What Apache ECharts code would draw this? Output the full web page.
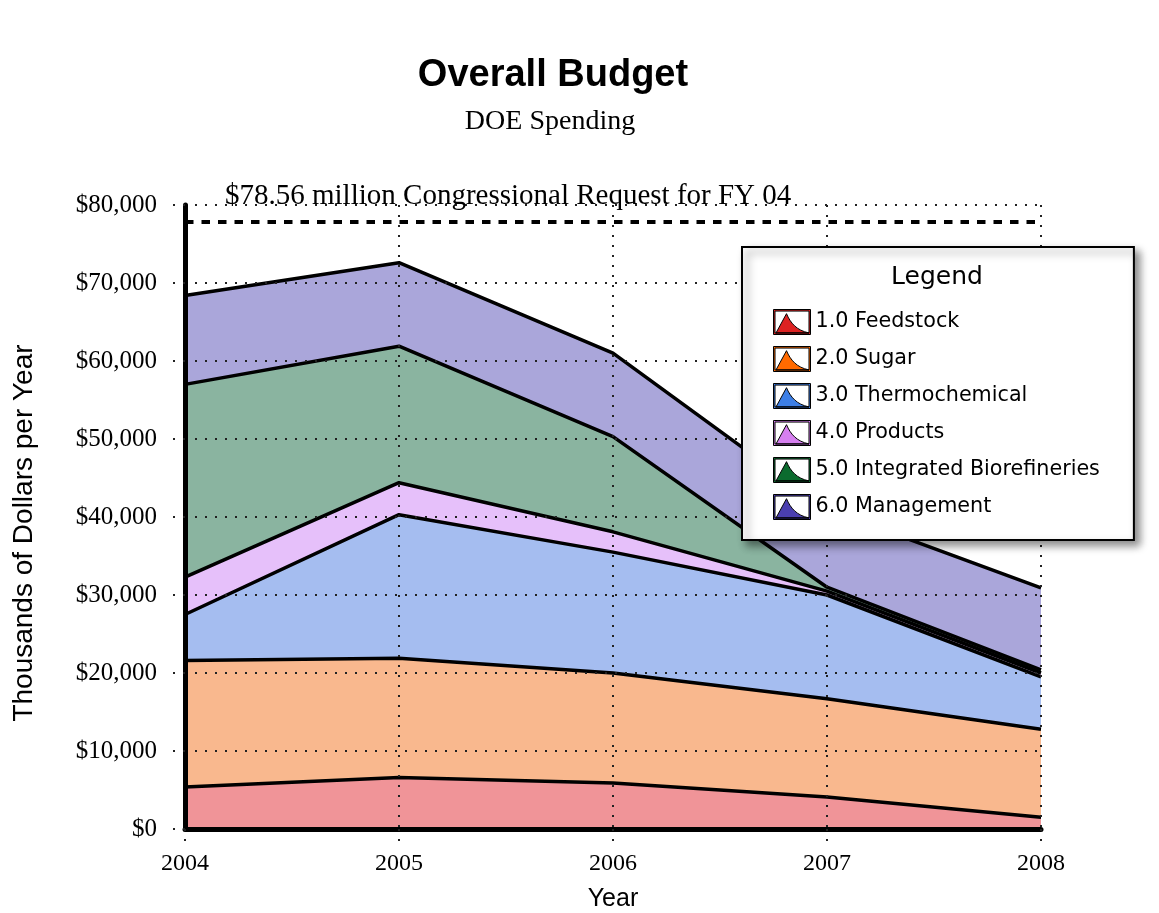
<!DOCTYPE html>
<html>
<head>
<meta charset="utf-8">
<title>Overall Budget</title>
<script src="https://cdn.jsdelivr.net/npm/echarts@6/dist/echarts.min.js"></script>
<style>
  html, body { margin: 0; padding: 0; background: #fff; }
  #chart { width: 1159px; height: 913px; }
</style>
</head>
<body>
<div id="chart"></div>
<script>
// budget in thousands of dollars per year
const years = ["2004", "2005", "2006", "2007", "2008"];
const feedstock = [5400, 6600, 5900, 4100, 1500];
const sugar = [16200, 15300, 14100, 12600, 11300];
const thermochemical = [5900, 18400, 15500, 13300, 6700];
const products = [4800, 4100, 2600, 500, 500];
const integrated = [24700, 17500, 12200, 500, 400];
const management = [11400, 10700, 10700, 10000, 10500];
const congressRequest = 77800;
const congressLabel = "$78.56 million Congressional Request for FY 04";

const names = [
  "1.0 Feedstock",
  "2.0 Sugar",
  "3.0 Thermochemical",
  "4.0 Products",
  "5.0 Integrated Biorefineries",
  "6.0 Management",
];
const values = [feedstock, sugar, thermochemical, products, integrated, management];
const iconColors = ["#dd2222", "#ff6a00", "#3d7fe6", "#d67ff0", "#0b6b2e", "#4b3fb0"];
const fillColors = ["#f09498", "#f9b88e", "#a5bdf0", "#e6c0fa", "#8ab4a0", "#aaa6da"];

// box outline with a peaked shape inside, like the original legend swatch
const legendIcon =
  "path://M0,0 H37 V24 H0 Z M1.5,1.5 V22.5 H35.5 V1.5 Z " +
  "M2.5,22.5 L13,4 C17,13 23,20 35.5,22.5 Z";

const chart = echarts.init(document.getElementById("chart"));

const dotted = { color: "#222", width: 2, type: [2, 8] };

chart.setOption({
  animation: false,
  title: [
    {
      text: "Overall Budget",
      left: 548,
      top: 52,
      textAlign: "center",
      textStyle: {
        fontFamily: "Liberation Sans",
        fontWeight: "bold",
        fontSize: 38,
        color: "#000",
      },
    },
    {
      text: "DOE Spending",
      left: 545,
      top: 103,
      textAlign: "center",
      textStyle: {
        fontFamily: "Liberation Serif",
        fontWeight: "normal",
        fontSize: 28,
        color: "#000",
      },
    },
    {
      text: "Legend",
      left: 932,
      top: 260,
      textAlign: "center",
      z: 10,
      textStyle: {
        fontFamily: "DejaVu Sans",
        fontWeight: "normal",
        fontSize: 25,
        color: "#000",
      },
    },
  ],
  legend: {
    orient: "vertical",
    left: 742,
    top: 247,
    padding: [62, 34, 20, 31],
    itemGap: 11,
    itemWidth: 37,
    itemHeight: 25,
    icon: legendIcon,
    symbolKeepAspect: false,
    backgroundColor: "#fff",
    borderColor: "#000",
    borderWidth: 2,
    shadowColor: "rgba(0,0,0,0.45)",
    shadowBlur: 8,
    shadowOffsetX: 5,
    shadowOffsetY: 5,
    selectedMode: false,
    textStyle: {
      fontFamily: "DejaVu Sans",
      fontSize: 20.7,
      color: "#000",
    },
    data: names.map((name, i) => ({
      name: name,
      itemStyle: {
        color: iconColors[i],
        borderColor: "#000",
        borderWidth: 1,
      },
    })),
  },
  grid: {
    left: 185,
    right: 118,
    top: 205,
    bottom: 84,
    outerBoundsMode: "none",
  },
  xAxis: {
    type: "category",
    boundaryGap: false,
    data: years,
    z: 3,
    name: "Year",
    nameLocation: "middle",
    nameGap: 58,
    nameTextStyle: {
      fontFamily: "Liberation Sans",
      fontSize: 25,
      color: "#000",
    },
    axisLine: { lineStyle: { color: "#000", width: 5 } },
    axisTick: { show: true, length: 14, lineStyle: dotted },
    axisLabel: {
      margin: 23,
      fontFamily: "Liberation Serif",
      fontSize: 24,
      color: "#000",
    },
    splitLine: { show: true, lineStyle: dotted },
  },
  yAxis: {
    type: "value",
    min: 0,
    max: 80000,
    interval: 10000,
    z: 3,
    name: "Thousands of Dollars per Year",
    nameLocation: "middle",
    nameGap: 147,
    nameTextStyle: {
      fontFamily: "Liberation Sans",
      fontSize: 28,
      color: "#000",
      padding: [0, 32, 0, 0],
    },
    axisLine: { show: true, lineStyle: { color: "#000", width: 5 } },
    axisTick: { show: true, length: 18, lineStyle: dotted },
    axisLabel: {
      margin: 28,
      fontFamily: "Liberation Serif",
      fontSize: 25,
      color: "#000",
      formatter: (v) => "$" + v.toLocaleString("en-US"),
    },
    splitLine: { show: true, lineStyle: dotted },
  },
  series: names.map((name, i) => {
    const s = {
      name: name,
      type: "line",
      stack: "budget",
      data: values[i],
      symbol: "none",
      color: iconColors[i],
      lineStyle: { color: "#000", width: 3.5 },
      areaStyle: { color: fillColors[i], opacity: 1 },
      z: 2,
    };
    if (i === 0) {
      s.markLine = {
        silent: true,
        symbol: "none",
        lineStyle: { color: "#000", width: 4, type: [8.5, 8] },
        label: {
          show: true,
          position: "insideStartTop",
          distance: [40, 11],
          formatter: congressLabel,
          fontFamily: "Liberation Serif",
          fontSize: 29,
          color: "#000",
        },
        data: [{ yAxis: congressRequest }],
      };
    }
    return s;
  }),
});

window.onresize = function () {
  chart.resize();
};
</script>
</body>
</html>
